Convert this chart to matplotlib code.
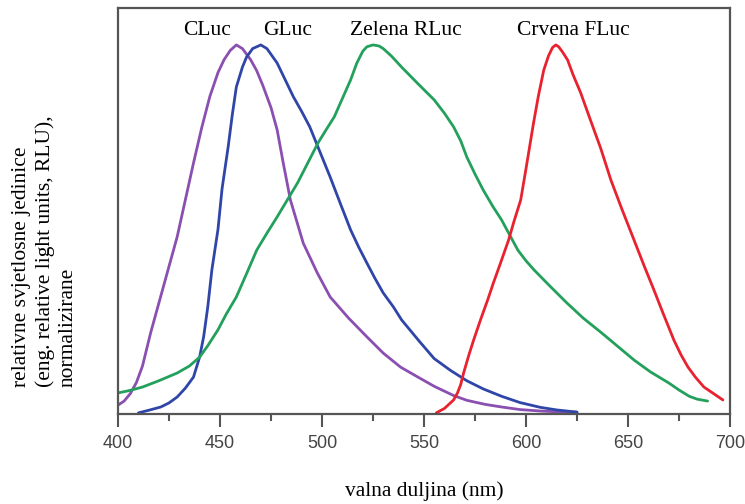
import matplotlib.pyplot as plt

# wavelength (nm) / normalised RLU
cluc_nm = [400, 403, 406, 409, 412, 416, 421, 425, 429, 433, 437, 441, 445, 449, 452, 455, 458, 461, 465,
           468, 471, 475, 478, 481, 484.5, 490.8, 497.7, 504, 513, 522, 530, 538.5, 547, 555, 564.5, 571,
           580, 588, 597, 607, 615, 625]
cluc_y = [0.024, 0.035, 0.055, 0.085, 0.13, 0.22, 0.32, 0.40, 0.48, 0.58, 0.68, 0.775, 0.86, 0.925, 0.96,
          0.985, 1.0, 0.99, 0.96, 0.93, 0.89, 0.83, 0.77, 0.68, 0.58, 0.463, 0.382, 0.317, 0.26, 0.209,
          0.165, 0.127, 0.10, 0.075, 0.05, 0.037, 0.026, 0.019, 0.012, 0.008, 0.006, 0.005]

gluc_nm = [410, 415, 421, 425, 429, 433, 437, 440, 442, 444, 446, 449, 451, 454, 456, 458, 461, 463, 466,
           470, 473, 478, 482, 486, 490, 494, 499, 504, 509, 514, 518, 522, 526, 530, 535, 539, 548, 555,
           563, 571, 579, 588, 597, 607, 615, 625]
gluc_y = [0.003, 0.01, 0.019, 0.03, 0.046, 0.07, 0.10, 0.154, 0.21, 0.29, 0.39, 0.50, 0.61, 0.724, 0.81,
          0.886, 0.94, 0.967, 0.99, 1.0, 0.99, 0.951, 0.905, 0.859, 0.82, 0.778, 0.71, 0.642, 0.57, 0.499,
          0.452, 0.409, 0.367, 0.328, 0.29, 0.255, 0.195, 0.15, 0.118, 0.09, 0.068, 0.048, 0.031, 0.018,
          0.011, 0.005]

rluc_nm = [400, 406, 412, 420, 429, 435, 440, 444, 449, 453, 458, 463, 468, 473, 478, 483, 488, 493, 498,
           502, 506, 510, 514, 517, 520, 522, 525, 528, 530, 534, 539, 547, 555, 560, 564.5, 568, 571, 575,
           579, 584, 588, 592, 596, 600, 604, 612, 620, 628, 637, 645, 653, 661, 670, 675, 680, 684, 689]
rluc_y = [0.057, 0.064, 0.073, 0.09, 0.111, 0.13, 0.154, 0.185, 0.228, 0.27, 0.317, 0.38, 0.444, 0.49,
          0.534, 0.58, 0.626, 0.68, 0.734, 0.77, 0.805, 0.855, 0.905, 0.95, 0.983, 0.995, 1.0, 0.997, 0.99,
          0.97, 0.94, 0.895, 0.851, 0.815, 0.778, 0.74, 0.696, 0.65, 0.607, 0.56, 0.526, 0.485, 0.444,
          0.415, 0.39, 0.345, 0.301, 0.26, 0.22, 0.183, 0.146, 0.114, 0.084, 0.065, 0.048, 0.04, 0.035]

fluc_nm = [556, 560, 564.5, 566.4, 568, 569.4, 572, 574.3, 578, 581.2, 584, 587.5, 591.5, 594, 597.4, 600,
           603.7, 606, 608.7, 611, 613, 614.6, 616, 618, 620.4, 623, 626.8, 632, 636.6, 641.6, 647, 652.9,
           658, 662.7, 667.1, 672.5, 676, 679.4, 683, 687.2, 692, 696.5]
fluc_y = [0.003, 0.015, 0.038, 0.057, 0.08, 0.111, 0.16, 0.20, 0.26, 0.309, 0.355, 0.409, 0.472, 0.52,
          0.58, 0.665, 0.789, 0.86, 0.932, 0.97, 0.993, 1.0, 0.995, 0.98, 0.959, 0.92, 0.87, 0.79, 0.72,
          0.634, 0.555, 0.472, 0.40, 0.336, 0.274, 0.20, 0.16, 0.127, 0.10, 0.073, 0.055, 0.038]

names = ["CLuc", "GLuc", "Zelena RLuc", "Crvena FLuc"]
label_nm = [443.7, 483, 541, 623.4]
colors = ["#8a4fb0", "#2f45a8", "#22a05c", "#e8222f"]

plt.rcParams['font.family'] = ['Liberation Serif', 'DejaVu Serif']

fig = plt.figure(figsize=(7.45, 5.04), dpi=100)
ax = fig.add_axes([0.1584, 0.1786, 0.8215, 0.8055])

series = [(cluc_nm, cluc_y), (gluc_nm, gluc_y), (rluc_nm, rluc_y), (fluc_nm, fluc_y)]
for (xs, ys), c in zip(series, colors):
    ax.plot(xs, ys, color=c, lw=2.0, solid_capstyle='round', solid_joinstyle='round')

for name, lx in zip(names, label_nm):
    ax.text(lx, 1.04, name, ha='center', va='center', fontsize=15.5)

ax.set_xlim(400, 700)
ax.set_ylim(0, 1.10)
ax.set_yticks([])
ax.set_xticks(range(400, 701, 50))
ax.set_xticks(range(425, 700, 50), minor=True)
ax.tick_params(axis='x', which='major', direction='out', length=9, width=1.5, color='#555555',
               labelsize=13, labelcolor='#444444', pad=6)
ax.tick_params(axis='x', which='minor', direction='out', length=5, width=1.5, color='#555555')
for lab in ax.get_xticklabels():
    lab.set_family('Liberation Sans')
for s in ax.spines.values():
    s.set_color('#555555')
    s.set_linewidth(1.6)

fig.text(0.569, 0.026, "valna duljina (nm)", ha='center', va='center', fontsize=15.5)
fig.text(0.060, 0.232, "relativne svjetlosne jedinice\n(eng. relative light units, RLU),\nnormalizirane",
         rotation=90, ha='center', va='bottom', multialignment='left', fontsize=15.5, linespacing=1.25)

fig.savefig('out.png', dpi=100)
